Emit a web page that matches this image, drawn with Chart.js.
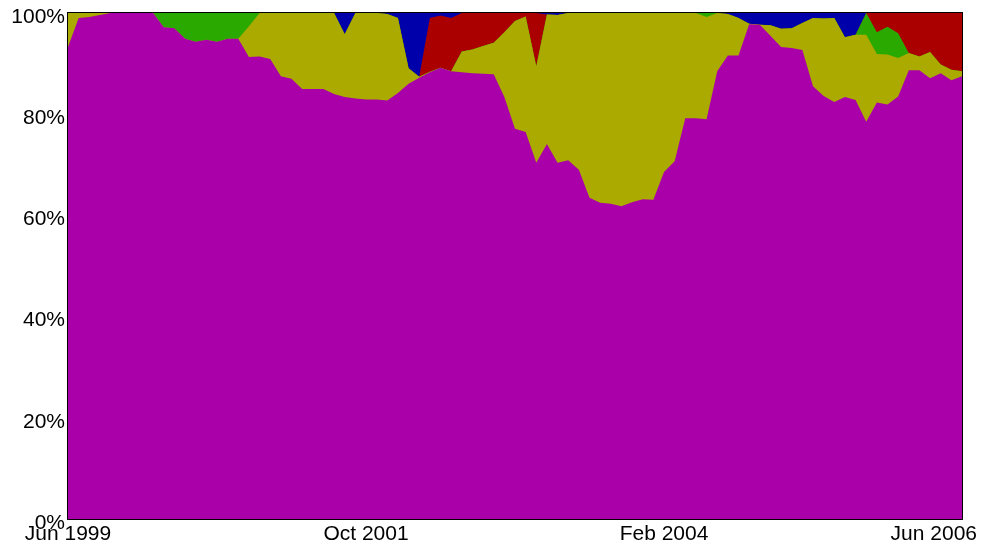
<!DOCTYPE html>
<html>
<head>
<meta charset="utf-8">
<title>Share by month</title>
<script src="https://cdn.jsdelivr.net/npm/chart.js@4/dist/chart.umd.min.js"></script>
<style>
    html, body { margin: 0; padding: 0; background: #ffffff; }
    #wrap { width: 981px; height: 546px; }
</style>
</head>
<body>
<div id="wrap"><canvas id="chart" width="981" height="546"></canvas></div>
<script>
// monthly shares in percent, Jun 1999 .. Jun 2006 (85 months)
var START_YEAR = 1999;
var START_MONTH = 5; // June, 0-based
var MONTH_COUNT = 85;
var MONTH_NAMES = ['Jan', 'Feb', 'Mar', 'Apr', 'May', 'Jun', 'Jul', 'Aug', 'Sep', 'Oct', 'Nov', 'Dec'];

var magentaShare = [
    93.3, 99.0, 99.2, 99.6, 100, 100, 100, 100, 100, 97.2,
    97.0, 94.9, 94.3, 94.7, 94.3, 94.9, 94.9, 91.3, 91.4, 90.9,
    87.5, 87.0, 85.0, 85.0, 85.0, 84.0, 83.4, 83.1, 82.9, 82.9,
    82.7, 84.2, 86.0, 87.2, 88.3, 89.2, 88.5, 88.3, 88.1, 88.0,
    87.9, 83.4, 77.1, 76.5, 70.4, 74.1, 70.4, 70.9, 69.0, 63.5,
    62.5, 62.3, 61.8, 62.6, 63.2, 63.1, 68.6, 70.7, 79.2, 79.2,
    79.0, 88.5, 91.6, 91.6, 97.8, 97.7, 95.5, 93.3, 93.1, 92.7,
    85.5, 83.6, 82.4, 83.4, 82.8, 78.5, 82.3, 81.9, 83.5, 88.7,
    88.7, 87.1, 88.1, 86.7, 87.5
];
var oliveShare = [
    6.7, 1.0, 0.8, 0.4, 0, 0, 0, 0, 0, 0,
    0, 0, 0, 0, 0, 0, 0, 6.1, 8.6, 9.1,
    12.5, 13.0, 15.0, 15.0, 15.0, 16.0, 12.4, 16.9, 17.1, 17.1,
    17.1, 14.8, 3.1, 0.2, 0.1, 0, 0, 4.1, 4.7, 5.5,
    6.2, 12.8, 21.3, 22.8, 19.1, 25.6, 29.2, 29.1, 31.0, 36.5,
    37.5, 37.7, 38.2, 37.4, 36.8, 36.9, 31.4, 29.3, 20.8, 20.8,
    20.2, 11.5, 8.2, 7.4, 0.1, 0, 2.1, 3.6, 3.9, 5.3,
    13.5, 15.3, 16.6, 11.8, 12.9, 17.2, 9.6, 9.9, 7.6, 3.4,
    2.7, 5.2, 1.7, 2.1, 1.0
];
var greenShare = [
    0, 0, 0, 0, 0, 0, 0, 0, 0, 2.8,
    3.0, 5.1, 5.7, 5.3, 5.7, 5.1, 5.1, 2.6, 0, 0,
    0, 0, 0, 0, 0, 0, 0, 0, 0, 0,
    0, 0, 0, 0, 0, 0, 0, 0, 0, 0,
    0, 0, 0, 0, 0, 0, 0, 0, 0, 0,
    0, 0, 0, 0, 0, 0, 0, 0, 0, 0,
    0.8, 0, 0, 0, 0, 0, 0, 0, 0, 0,
    0, 0, 0, 0, 0, 4.3, 4.3, 5.5, 4.9, 0,
    0, 0, 0, 0, 0
];
var redShare = [
    0, 0, 0, 0, 0, 0, 0, 0, 0, 0,
    0, 0, 0, 0, 0, 0, 0, 0, 0, 0,
    0, 0, 0, 0, 0, 0, 0, 0, 0, 0,
    0, 0, 0, 0, 10.6, 10.3, 10.5, 7.6, 7.2, 6.5,
    5.9, 3.8, 1.6, 0.7, 10.5, 0, 0, 0, 0, 0,
    0, 0, 0, 0, 0, 0, 0, 0, 0, 0,
    0, 0, 0, 0, 0, 0, 0, 0, 0, 0,
    0, 0, 0, 0, 0, 0, 3.8, 2.7, 4.0, 7.9,
    8.6, 7.7, 10.2, 11.2, 11.5
];
var blueShare = [
    0, 0, 0, 0, 0, 0, 0, 0, 0, 0,
    0, 0, 0, 0, 0, 0, 0, 0, 0, 0,
    0, 0, 0, 0, 0, 0, 4.2, 0, 0, 0,
    0.2, 1.0, 10.9, 12.6, 1.0, 0.5, 1.0, 0, 0, 0,
    0, 0, 0, 0, 0, 0.3, 0.4, 0, 0, 0,
    0, 0, 0, 0, 0, 0, 0, 0, 0, 0,
    0, 0, 0.2, 1.0, 2.1, 2.3, 2.4, 3.1, 3.0, 2.0,
    1.0, 1.1, 1.0, 4.8, 4.3, 0, 0, 0, 0, 0,
    0, 0, 0, 0, 0
];

var xTickIndexes = [0, 28, 56, 84];
var xTickLabels = ['Jun 1999', 'Oct 2001', 'Feb 2004', 'Jun 2006'];
var yTickValues = [0, 20, 40, 60, 80, 100];

(function () {
    'use strict';

    var FONT = '21px "Liberation Sans", Arial, sans-serif';

    var months = [];
    for (var i = 0; i < MONTH_COUNT; i++) {
        var m = (START_MONTH + i) % 12;
        var y = START_YEAR + Math.floor((START_MONTH + i) / 12);
        months.push(MONTH_NAMES[m] + ' ' + y);
    }

    function layer(label, values, color) {
        return {
            label: label,
            data: values,
            backgroundColor: color,
            borderColor: color,
            borderWidth: 0,
            pointRadius: 0,
            tension: 0,
            fill: 'origin'
        };
    }

    // labels and frame are drawn by hand so the last date can sit inside the canvas
    var axisText = {
        id: 'axisText',
        afterDraw: function (chart) {
            var ctx = chart.ctx;
            var area = chart.chartArea;
            var xs = chart.scales.x;
            var ys = chart.scales.y;

            ctx.save();
            ctx.strokeStyle = '#000000';
            ctx.lineWidth = 1;
            ctx.strokeRect(area.left - 0.5, area.top - 0.5, area.right - area.left + 1, area.bottom - area.top + 1);

            ctx.fillStyle = '#000000';
            ctx.font = FONT;
            ctx.textBaseline = 'middle';

            ctx.textAlign = 'right';
            for (var i = 0; i < yTickValues.length; i++) {
                ctx.fillText(yTickValues[i] + '%', area.left - 3, ys.getPixelForValue(yTickValues[i]) + 4);
            }

            ctx.textAlign = 'center';
            for (var j = 0; j < xTickIndexes.length; j++) {
                var text = xTickLabels[j];
                var w = ctx.measureText(text).width;
                var px = xs.getPixelForValue(xTickIndexes[j]);
                px = Math.min(px, chart.width - 4 - w / 2);
                ctx.fillText(text, px, area.bottom + 15);
            }
            ctx.restore();
        }
    };

    new Chart(document.getElementById('chart'), {
        type: 'line',
        data: {
            labels: months,
            datasets: [
                layer('Magenta', magentaShare, '#aa00aa'),
                layer('Olive', oliveShare, '#aaaa00'),
                layer('Green', greenShare, '#2aaa00'),
                layer('Red', redShare, '#aa0000'),
                layer('Blue', blueShare, '#0000aa')
            ]
        },
        options: {
            responsive: false,
            animation: false,
            layout: {
                padding: { left: 68, right: 19, top: 13, bottom: 27 }
            },
            plugins: {
                legend: { display: false },
                tooltip: { enabled: false }
            },
            scales: {
                x: {
                    display: false,
                    offset: false
                },
                y: {
                    display: false,
                    stacked: true,
                    min: 0,
                    max: 100
                }
            }
        },
        plugins: [axisText]
    });
})();
</script>
</body>
</html>
